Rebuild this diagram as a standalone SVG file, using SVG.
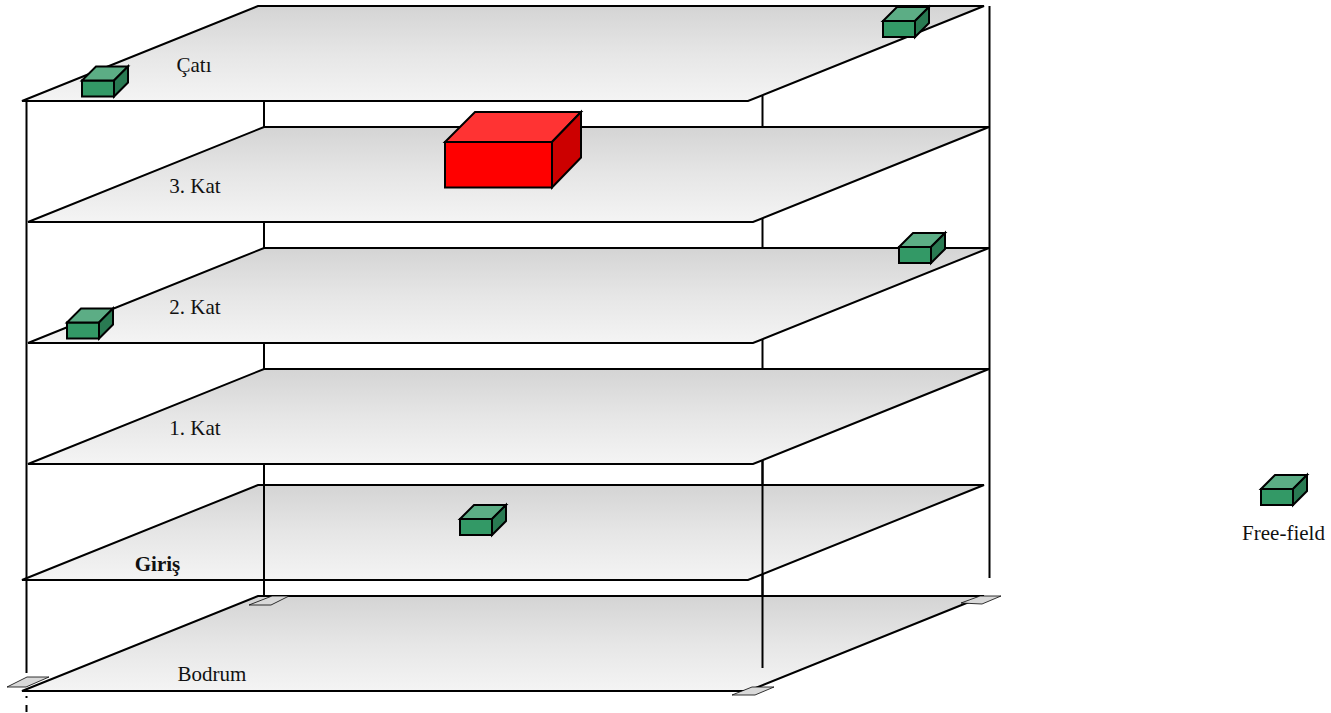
<svg xmlns="http://www.w3.org/2000/svg" width="1331" height="713" viewBox="0 0 1331 713">
<style>
.plate{fill:url(#pg);stroke:#000;stroke-width:2;stroke-linejoin:miter}
.post{stroke:#000;stroke-width:2;fill:none}
.pad{fill:#d9d9d9;stroke:#000;stroke-width:.8}
.t{font-family:"Liberation Serif","Times New Roman",serif;font-size:21px;fill:#111;text-anchor:middle}
.b{stroke:#000;stroke-width:2;stroke-linejoin:miter}
</style>
<defs>
<linearGradient id="pg" x1="0" y1="0" x2="0" y2="1"><stop offset="0" stop-color="#d4d4d4"/><stop offset=".5" stop-color="#e6e6e6"/><stop offset="1" stop-color="#f4f4f4"/></linearGradient>
<g id="gbox">
<rect x="0" y="14" width="32" height="16" fill="#339966" class="b"/>
<path d="M0 14L14 0H46L32 14Z" fill="#5cad85" class="b"/>
<path d="M32 14L46 0V16L32 30Z" fill="#297a52" class="b"/>
</g>
</defs>
<g id="connectors">
<path class="post" d="M26.500 101V673M26.500 696V698M26.500 705V712"/>
<path class="post" d="M264 96V596"/>
<path class="post" d="M762.500 96V668"/>
<path class="post" d="M989.500 6V578"/>
</g>
<g id="pad-a"><path class="pad" d="M7 687L27 677H49L26 687Z"/></g>
<g id="floor-catı"><path class="plate" d="M258 6H984L748 101H22Z"/><text class="t" x="194" y="72">Çatı</text></g>
<g id="floor-3"><path class="plate" d="M264 127H989L753 222H28Z"/><text class="t" x="195" y="193">3. Kat</text></g>
<g id="floor-2"><path class="plate" d="M264 248H989L753 343H28Z"/><text class="t" x="195" y="314">2. Kat</text></g>
<g id="floor-1"><path class="plate" d="M264 369H989L753 464H28Z"/><text class="t" x="195" y="435">1. Kat</text></g>
<g id="floor-giris"><path class="plate" d="M258 485H984L748 580H22Z"/><text class="t" x="157.500" y="571" font-weight="bold">Giriş</text></g>
<g id="floor-bodrum"><path class="plate" d="M258 596H984L748 691H22Z"/><text class="t" x="212" y="681">Bodrum</text></g>
<g id="connectors-over">
<path class="post" d="M264 485V596"/>
<path class="post" d="M762.500 461V668"/>
</g>
<g id="pads">
<path class="pad" d="M249 605L272 596H289L271 605Z"/>
<path class="pad" d="M961 603L980 596H1001L982 604Z"/>
<path class="pad" d="M732 695L752 687H774L755 695Z"/>
</g>
<g id="box-red">
<rect x="445" y="142" width="107" height="45.500" fill="#f00" class="b"/>
<path d="M445 142L475 112H581L552 142Z" fill="#f33" class="b"/>
<path d="M552 142L581 112V157.500L552 187.500Z" fill="#c00" class="b"/>
</g>
<g id="box-1"><use href="#gbox" x="82" y="66.500"/></g>
<g id="box-2"><use href="#gbox" x="883" y="7"/></g>
<g id="box-3"><use href="#gbox" x="899" y="233"/></g>
<g id="box-4"><use href="#gbox" x="67" y="308.500"/></g>
<g id="box-5"><use href="#gbox" x="460" y="505"/></g>
<g id="box-6"><use href="#gbox" x="1261" y="475"/><text class="t" x="1283.500" y="540">Free-field</text></g>
</svg>
